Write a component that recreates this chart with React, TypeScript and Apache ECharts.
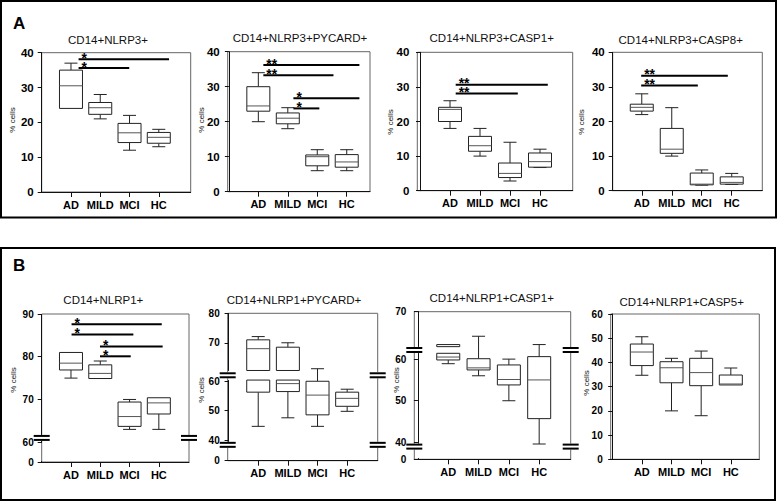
import React, { useEffect, useRef } from 'react';
import * as echarts from 'echarts';

const groups = ['AD', 'MILD', 'MCI', 'HC'];

// box values per group: [min, q1, median, q3, max]
const a1Nlrp3 = [[24, 24, 30.5, 35, 37], [21, 22.3, 24.2, 25.7, 28], [12, 14.2, 17, 19.7, 22], [13, 14, 15.7, 17.1, 18]];
const a2Pycard = [[20, 23, 24.5, 30, 34], [18, 19.4, 21, 22.5, 24], [6, 7.4, 10, 10.5, 12], [6, 7, 8.5, 10.6, 12]];
const a3Casp1 = [[18, 20, 23.5, 24.1, 26], [10, 11.4, 13, 15.7, 18], [2.8, 3.8, 5, 8, 14], [6.7, 6.8, 8.4, 10.9, 12]];
const a4Casp8 = [[22, 23, 24.1, 25, 28], [10, 10.8, 12, 18, 24], [1.6, 1.7, 1.9, 5.1, 6], [1.8, 1.9, 2.4, 4, 5]];
const b1Nlrp1 = [[75, 76.9, 78.5, 81, 81], [74.9, 74.9, 76.1, 78.1, 79], [63, 63.7, 66, 69.4, 70], [63, 66.6, 69.2, 70.4, 70.4]];
const b2Pycard = [[44.7, 56.3, 68, 71, 72.1], [47.6, 56.5, 59.2, 68.5, 70], [44.7, 48.6, 55.3, 60, 61.2], [49.8, 51.5, 54.2, 56.3, 57.3]];
const b3Casp1 = [[58.9, 59.8, 60.5, 62.1, 62.1], [56, 57.4, 57.9, 60.1, 64.1], [50, 53.8, 55.1, 58.6, 60], [39.6, 45.7, 55, 60.6, 62.1]];
const b4Casp5 = [[34.7, 38.7, 44.3, 47.6, 50.6], [20, 31.6, 37.8, 40.3, 41.7], [18, 30.4, 35.8, 41.7, 44.7], [30.7, 30.7, 31.1, 34.8, 37.7]];

// significance bars: [fromX, toX, y, number of stars]
const a1Sig = [[1.26, 4.35, 38.1, 1], [1.26, 2.99, 35.6, 1]];
const a2Sig = [[1.17, 4.43, 36.2, 2], [1.17, 3.55, 33.3, 2], [2.19, 4.43, 26.7, 1], [2.19, 3.07, 23.8, 1]];
const a3Sig = [[1.19, 4.26, 30.6, 2], [1.19, 3.26, 28.1, 2]];
const a4Sig = [[0.98, 3.87, 33.2, 2], [0.98, 2.87, 30.4, 2]];
const b1Sig = [[1.02, 4.1, 87.6, 1], [1.02, 3.13, 85.2, 1], [1.99, 4.13, 82.4, 1], [1.99, 3.04, 80.1, 1]];

// y tick labels
const aTicks = [0, 10, 20, 30, 40];
const b1Ticks = [0, 60, 70, 80, 90];
const b2Ticks = [0, 40, 50, 60, 70, 80];
const b3Ticks = [0, 40, 50, 60, 70];
const b4Ticks = [0, 10, 20, 30, 40, 50, 60];

const FONT = "'Liberation Sans', Arial, sans-serif";
const BOX_W = 23;
const CAP_W = 13;
const BOX_C = '#222';
const MED_C = '#555';

type Chart = {
  title: string; box: number[][]; sig: number[][]; ticks: number[];
  left: number; top: number; width: number; height: number;
  xMin: number; xMax: number; yMax: number;
  breaks: { start: number; end: number; gap: string }[];
  splits: number[][]; marks: number[];
  tx: number; ty: number; nx: number; ny: number; big: boolean;
};

const charts: Chart[] = [
  { title: 'CD14+NLRP3+', box: a1Nlrp3, sig: a1Sig, ticks: aTicks, left: 41.7, top: 52.7, width: 149, height: 139.3, xMin: 0, xMax: 5.09, yMax: 40, breaks: [], splits: [], marks: [], tx: 108, ty: 40, nx: 12, ny: 120, big: true },
  { title: 'CD14+NLRP3+PYCARD+', box: a2Pycard, sig: a2Sig, ticks: aTicks, left: 227.7, top: 51.7, width: 142.3, height: 140, xMin: -0.04, xMax: 4.79, yMax: 40, breaks: [], splits: [], marks: [], tx: 300, ty: 38.3, nx: 201.7, ny: 120, big: true },
  { title: 'CD14+NLRP3+CASP1+', box: a3Casp1, sig: a3Sig, ticks: aTicks, left: 417.3, top: 52.3, width: 155.4, height: 138.4, xMin: -0.09, xMax: 5.09, yMax: 40, breaks: [], splits: [], marks: [], tx: 491.7, ty: 38.3, nx: 390, ny: 122, big: true },
  { title: 'CD14+NLRP3+CASP8+', box: a4Casp8, sig: a4Sig, ticks: aTicks, left: 612.7, top: 52.3, width: 149.6, height: 138.4, xMin: 0.03, xMax: 5.02, yMax: 40, breaks: [], splits: [], marks: [], tx: 680.7, ty: 40, nx: 581.7, ny: 122, big: true },
  { title: 'CD14+NLRP1+', box: b1Nlrp1, sig: b1Sig, ticks: b1Ticks, left: 41.7, top: 314, width: 147.3, height: 148, xMin: 0, xMax: 5.03, yMax: 90, breaks: [{ start: 0.2, end: 60, gap: '12.8%' }], splits: [], marks: [61], tx: 103.3, ty: 300, nx: 13.3, ny: 380, big: false },
  { title: 'CD14+NLRP1+PYCARD+', box: b2Pycard, sig: [], ticks: b2Ticks, left: 227.7, top: 313.3, width: 150, height: 147.4, xMin: -0.03, xMax: 5.03, yMax: 80, breaks: [{ start: 0.2, end: 38.5, gap: '10.5%' }, { start: 60.4, end: 60.6, gap: '6.5%' }], splits: [[60.4, 60.6]], marks: [60.5, 38], tx: 294, ty: 300, nx: 201.7, ny: 390, big: false },
  { title: 'CD14+NLRP1+CASP1+', box: b3Casp1, sig: [], ticks: b3Ticks, left: 414.3, top: 311.7, width: 156.4, height: 147.6, xMin: -0.12, xMax: 5.04, yMax: 70, breaks: [{ start: 0.2, end: 39, gap: '8.1%' }, { start: 61.4, end: 61.6, gap: '4.5%' }], splits: [[61.4, 61.6]], marks: [61.5, 38.7], tx: 491.7, ty: 298.3, nx: 396.7, ny: 380, big: false },
  { title: 'CD14+NLRP1+CASP5+', box: b4Casp5, sig: [], ticks: b4Ticks, left: 610.7, top: 314, width: 148.6, height: 145.3, xMin: -0.05, xMax: 4.96, yMax: 60, breaks: [], splits: [], marks: [], tx: 681.7, ty: 301.7, nx: 586.7, ny: 383, big: false },
];

function boxRender(splits: number[][]) {
  return (params: any, api: any) => {
    const x = api.value(0);
    const mn = api.value(1), q1 = api.value(2), md = api.value(3), q3 = api.value(4), mx = api.value(5);
    const p = (v: number) => api.coord([x, v]);
    const cx = p(md)[0];
    const hw = BOX_W / 2, cw = CAP_W / 2;
    const kids: any[] = [];
    const line = (x1: number, y1: number, x2: number, y2: number, stroke = BOX_C) =>
      kids.push({ type: 'line', shape: { x1, y1, x2, y2 }, style: { stroke, lineWidth: 1 } });
    if (mx > q3) { line(cx, p(q3)[1], cx, p(mx)[1]); line(cx - cw, p(mx)[1], cx + cw, p(mx)[1]); }
    if (mn < q1) { line(cx, p(q1)[1], cx, p(mn)[1]); line(cx - cw, p(mn)[1], cx + cw, p(mn)[1]); }
    let segs = [[q1, q3]];
    splits.forEach(([s, e]) => {
      segs = segs.flatMap(([lo, hi]) => (s > lo && e < hi ? [[lo, s], [e, hi]] : [[lo, hi]]));
    });
    segs.forEach(([lo, hi]) => {
      const yt = p(hi)[1], yb = p(lo)[1];
      kids.push({ type: 'rect', shape: { x: cx - hw, y: yt, width: BOX_W, height: yb - yt }, style: { fill: '#fff', stroke: BOX_C, lineWidth: 1 } });
    });
    line(cx - hw, p(md)[1], cx + hw, p(md)[1], MED_C);
    return { type: 'group', children: kids };
  };
}

function sigRender(params: any, api: any) {
  const y = api.value(2);
  const a = api.coord([api.value(0), y]);
  const b = api.coord([api.value(1), y]);
  const n = api.value(3);
  return {
    type: 'group',
    children: [
      { type: 'line', shape: { x1: a[0], y1: a[1], x2: b[0], y2: b[1] }, style: { stroke: '#000', lineWidth: 2 } },
      { type: 'text', x: a[0] + 3, y: a[1] - 1.5, scaleX: 1.85, scaleY: 1.85, style: { text: '*'.repeat(n), font: `bold 7.5px ${FONT}`, fill: '#000', align: 'left', verticalAlign: 'middle', textAlign: 'left', textVerticalAlign: 'middle' } },
    ],
  };
}

function markRender(params: any, api: any) {
  const p = api.coord([api.value(0), api.value(1)]);
  return {
    type: 'group',
    children: [
      { type: 'rect', shape: { x: p[0] - 8, y: p[1] - 3, width: 16, height: 6 }, style: { fill: '#fff' } },
      { type: 'rect', shape: { x: p[0] - 8, y: p[1] - 3, width: 16, height: 2 }, style: { fill: '#000' } },
      { type: 'rect', shape: { x: p[0] - 8, y: p[1] + 1, width: 16, height: 2 }, style: { fill: '#000' } },
    ],
  };
}

function buildOption() {
  const grid: any[] = [], xAxis: any[] = [], yAxis: any[] = [], series: any[] = [], graphic: any[] = [];
  charts.forEach((c, i) => {
    grid.push({ left: c.left, top: c.top, width: c.width, height: c.height, show: true, borderColor: '#666', borderWidth: 1, backgroundColor: 'transparent' });
    xAxis.push({
      gridIndex: i, type: 'value', min: c.xMin, max: c.xMax,
      axisLine: { lineStyle: { color: '#111', width: 1 } },
      axisTick: { customValues: [1, 2, 3, 4], length: 5, lineStyle: { color: '#111' } },
      axisLabel: { customValues: [1, 2, 3, 4], formatter: (v: number) => groups[Math.round(v) - 1] || '', margin: 7, fontFamily: FONT, fontSize: 11, fontWeight: 'bold', color: '#000' },
      splitLine: { show: false },
    });
    const y: any = {
      gridIndex: i, type: 'value', min: 0, max: c.yMax,
      axisLine: { show: true, lineStyle: { color: '#111', width: 1 } },
      axisTick: { show: true, customValues: c.ticks, length: 4, lineStyle: { color: '#111' } },
      axisLabel: { customValues: c.ticks, margin: 8, fontFamily: FONT, fontSize: c.big ? 11.5 : 10, fontWeight: 'bold', color: '#000' },
      splitLine: { show: false },
    };
    if (c.breaks.length) {
      y.breaks = c.breaks;
      y.breakArea = { show: false, expandOnClick: false };
    }
    yAxis.push(y);
    series.push({
      type: 'custom', xAxisIndex: i, yAxisIndex: i, renderItem: boxRender(c.splits), clip: false,
      data: c.box.map((b, k) => [k + 1, ...b]), silent: true,
    });
    if (c.sig.length) {
      series.push({ type: 'custom', xAxisIndex: i, yAxisIndex: i, renderItem: sigRender, clip: false, data: c.sig, silent: true, z: 5 });
    }
    if (c.marks.length) {
      const md: number[][] = [];
      c.marks.forEach((m) => { md.push([c.xMin, m]); md.push([c.xMax, m]); });
      series.push({ type: 'custom', xAxisIndex: i, yAxisIndex: i, renderItem: markRender, clip: false, data: md, silent: true, z: 6 });
    }
    graphic.push({ type: 'text', x: c.tx, y: c.ty, style: { text: c.title, font: `11.5px ${FONT}`, fill: '#111', align: 'center', verticalAlign: 'middle', textAlign: 'center', textVerticalAlign: 'middle' } });
    graphic.push({ type: 'text', x: c.nx, y: c.ny, rotation: Math.PI / 2, style: { text: '% cells', font: `8px ${FONT}`, fill: '#111', align: 'center', verticalAlign: 'middle', textAlign: 'center', textVerticalAlign: 'middle' } });
  });
  graphic.push({ type: 'rect', shape: { x: 1, y: 1, width: 775, height: 216.5 }, style: { fill: 'none', stroke: '#000', lineWidth: 2 } });
  graphic.push({ type: 'rect', shape: { x: 1, y: 248, width: 774, height: 252 }, style: { fill: 'none', stroke: '#000', lineWidth: 2 } });
  graphic.push({ type: 'text', x: 13, y: 23, style: { text: 'A', font: `bold 17px ${FONT}`, fill: '#000', align: 'left', verticalAlign: 'middle', textAlign: 'left', textVerticalAlign: 'middle' } });
  graphic.push({ type: 'text', x: 13, y: 265, style: { text: 'B', font: `bold 17px ${FONT}`, fill: '#000', align: 'left', verticalAlign: 'middle', textAlign: 'left', textVerticalAlign: 'middle' } });
  return { animation: false, backgroundColor: '#fff', grid, xAxis, yAxis, series, graphic };
}

export default function App() {
  const ref = useRef<HTMLDivElement>(null);
  useEffect(() => {
    if (!ref.current) return;
    const chart = echarts.init(ref.current, undefined, { renderer: 'svg' });
    chart.setOption(buildOption() as any);
    return () => chart.dispose();
  }, []);
  return <div ref={ref} style={{ position: 'fixed', left: 0, top: 0, width: 778, height: 504, background: '#fff' }} />;
}
